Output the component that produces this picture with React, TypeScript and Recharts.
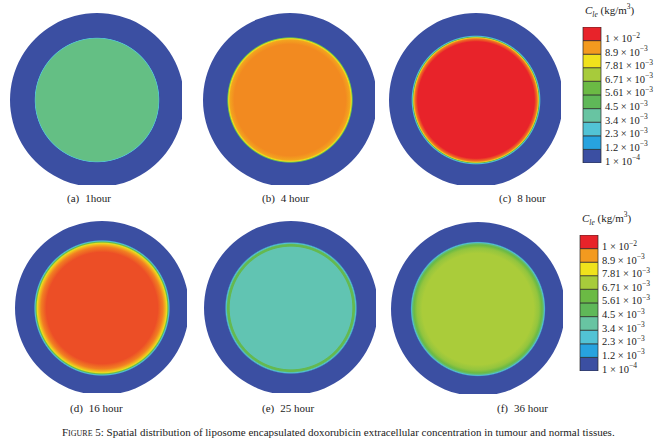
import React from 'react';
import { PieChart, Pie, Cell, BarChart, Bar, XAxis, YAxis } from 'recharts';

// radial profiles: [r / outer radius, C_le in kg/m^3]
const profile1h = [[0, 0.0044], [0.702, 0.0044], [0.712, 0.0029], [0.72, 0.0001], [1, 0.0001]];
const profile4h = [[0, 0.0096], [0.64, 0.0096], [0.69, 0.0093], [0.705, 0.0084], [0.716, 0.0052], [0.725, 0.0001], [1, 0.0001]];
const profile8h = [[0, 0.0107], [0.67, 0.0107], [0.703, 0.0098], [0.716, 0.0087], [0.725, 0.0052], [0.733, 0.0028], [0.745, 0.0001], [1, 0.0001]];
const profile16h = [[0, 0.01015], [0.64, 0.01015], [0.7, 0.0097], [0.73, 0.009], [0.745, 0.0082], [0.758, 0.006], [0.77, 0.0028], [0.783, 0.0001], [1, 0.0001]];
const profile25h = [[0, 0.0036], [0.7, 0.0036], [0.71, 0.0055], [0.73, 0.0055], [0.745, 0.0028], [0.76, 0.0001], [1, 0.0001]];
const profile36h = [[0, 0.0073], [0.64, 0.0073], [0.7, 0.0069], [0.735, 0.0061], [0.752, 0.0046], [0.763, 0.0028], [0.777, 0.0001], [1, 0.0001]];

const panelTags = ['(a)', '(b)', '(c)', '(d)', '(e)', '(f)'];
const panelTimes = ['1hour', '4 hour', '8 hour', '16 hour', '25 hour', '36 hour'];
const profiles = [profile1h, profile4h, profile8h, profile16h, profile25h, profile36h];

// colour bar
const barEdges = [0.0001, 0.0012, 0.0023, 0.0034, 0.0045, 0.00561, 0.00671, 0.00781, 0.0089, 0.01, 0.0111];
const tickMant = ['1', '1.2', '2.3', '3.4', '4.5', '5.61', '6.71', '7.81', '8.9', '1'];
const tickExp = ['−4', '−3', '−3', '−3', '−3', '−3', '−3', '−3', '−3', '−2'];

const bandColors = ['#3b4fa2', '#27a3df', '#52c3d5', '#68c4a2', '#5fb858', '#6bba44', '#a7cb3b', '#f0e21c', '#f39a1f', '#e8232a'];

const hex = (h: string) => [1, 3, 5].map((i) => parseInt(h.slice(i, i + 2), 16));
const colorFor = (c: number) => {
  const mids = bandColors.map((_, i) => (barEdges[i] + barEdges[i + 1]) / 2);
  if (c <= mids[0]) return bandColors[0];
  if (c >= mids[mids.length - 1]) return bandColors[bandColors.length - 1];
  let i = 0;
  while (c > mids[i + 1]) i++;
  const t = (c - mids[i]) / (mids[i + 1] - mids[i]);
  const a = hex(bandColors[i]);
  const b = hex(bandColors[i + 1]);
  const m = a.map((v, k) => Math.round(v + (b[k] - v) * t));
  return `rgb(${m.join(',')})`;
};

const centers = [
  [92, 94.5], [284.5, 94.5], [471, 95],
  [96.5, 302.5], [285.5, 303], [473, 304],
];
const captionPos = [
  [67, 191], [262, 191], [499, 191],
  [70, 401], [262, 401], [497, 401],
];

const Disk = ({ idx }: { idx: number }) => {
  const [cx, cy] = centers[idx];
  const id = `grad${idx}`;
  return (
    <div style={{ position: 'absolute', left: cx - 90, top: cy - 90 }}>
      <PieChart width={180} height={180}>
        <defs>
          <radialGradient id={id} cx="50%" cy="50%" r="50%">
            {profiles[idx].map(([r, c], k) => (
              <stop key={k} offset={r} stopColor={colorFor(c)} />
            ))}
          </radialGradient>
        </defs>
        <Pie
          data={[{ name: 'tissue', value: 1 }]}
          dataKey="value"
          cx={90}
          cy={90}
          innerRadius={0}
          outerRadius={87}
          stroke="none"
          isAnimationActive={false}
        >
          <Cell fill={`url(#${id})`} />
        </Pie>
      </PieChart>
    </div>
  );
};

const barRow: Record<string, number | string> = { name: 'c', base: barEdges[0] };
bandColors.forEach((_, i) => {
  barRow[`b${i}`] = barEdges[i + 1] - barEdges[i];
});

const BarTick = (props: any) => {
  const { x, y, payload } = props;
  const i = barEdges.indexOf(payload.value);
  return (
    <text x={x} y={y + 1.5} fontSize={10.5} fill="#222" fontFamily='"Liberation Serif", serif' textAnchor="start">
      <tspan>{tickMant[i]} × 10</tspan>
      <tspan dy={-4.5} fontSize={7.5}>{tickExp[i]}</tspan>
    </text>
  );
};

const ColorBar = ({ left, top }: { left: number; top: number }) => (
  <div style={{ position: 'absolute', left, top }}>
    <div style={{ position: 'absolute', left: 15, top: -18, fontSize: 11, whiteSpace: 'nowrap', color: '#222' }}>
      <i>C</i><sub style={{ fontSize: 7.5, fontStyle: 'italic' }}>le</sub> (kg/m<sup style={{ fontSize: 7.5 }}>3</sup>)
    </div>
    <BarChart width={110} height={150} data={[barRow]} margin={{ top: 7, bottom: 7, left: 13, right: 9 }} barCategoryGap={0}>
      <XAxis dataKey="name" hide />
      <YAxis
        orientation="right"
        width={70}
        domain={[barEdges[0], barEdges[barEdges.length - 1]]}
        allowDataOverflow
        ticks={barEdges.slice(0, 10)}
        interval={0}
        axisLine={false}
        tickLine={false}
        tickSize={2}
        tickMargin={2}
        tick={<BarTick />}
      />
      <Bar dataKey="base" stackId="s" fill="transparent" stroke="none" isAnimationActive={false} />
      {bandColors.map((col, i) => (
        <Bar key={i} dataKey={`b${i}`} stackId="s" fill={col} stroke="#2a2a2a" strokeWidth={0.7} isAnimationActive={false} />
      ))}
    </BarChart>
  </div>
);

export default function App() {
  return (
    <div
      style={{
        position: 'absolute',
        left: 0,
        top: 0,
        width: 672,
        height: 448,
        background: '#fff',
        fontFamily: '"Liberation Serif", serif',
        color: '#222',
        overflow: 'hidden',
      }}
    >
      {profiles.map((_, i) => (
        <Disk key={i} idx={i} />
      ))}
      {panelTags.map((tag, i) => (
        <div
          key={tag}
          style={{ position: 'absolute', left: captionPos[i][0], top: captionPos[i][1], fontSize: 11, lineHeight: '14px', whiteSpace: 'nowrap' }}
        >
          {tag}
          <span style={{ marginLeft: 6 }}>{panelTimes[i]}</span>
        </div>
      ))}
      <ColorBar left={570} top={20} />
      <ColorBar left={567} top={228} />
      <div style={{ position: 'absolute', left: 62, top: 425, fontSize: 11, lineHeight: '14px', whiteSpace: 'nowrap' }}>
        <span style={{ fontVariant: 'small-caps' }}>Figure 5</span>: Spatial distribution of liposome encapsulated doxorubicin
        extracellular concentration in tumour and normal tissues.
      </div>
    </div>
  );
}
